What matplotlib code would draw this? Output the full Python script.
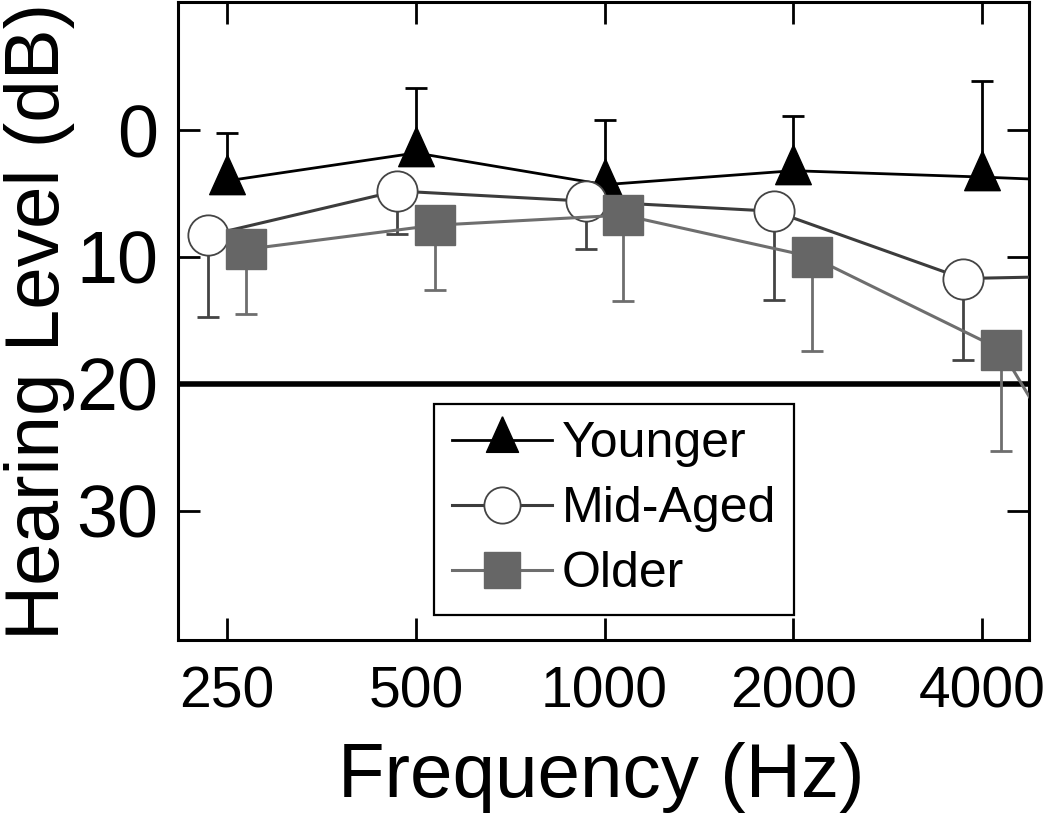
import numpy as np
import matplotlib
matplotlib.use('Agg')
import matplotlib.pyplot as plt

plt.rcParams['font.family'] = ['Liberation Sans', 'DejaVu Sans']

# audiometric frequencies (Hz); last point lies past the right edge
freqs = np.array([250, 500, 1000, 2000, 4000, 8000])
tick_labels = ['250', '500', '1000', '2000', '4000']

# mean hearing level (dB HL) per group
younger = [4.0, 1.8, 4.3, 3.2, 3.7, 4.3]
mid_aged = [8.3, 4.8, 5.6, 6.4, 11.7, 11.4]
older = [9.4, 7.5, 6.7, 10.0, 17.3, 42.0]

# one-sided SD bars (first five frequencies)
younger_sd = [3.8, 5.1, 5.1, 4.3, 7.6]
mid_aged_sd = [6.4, 3.4, 3.8, 7.0, 6.4]
older_sd = [5.1, 5.1, 6.8, 7.4, 8.0]

fig = plt.figure(figsize=(10.5, 8.35), dpi=100)
ax = fig.add_axes([0.1695, 0.2335, 0.8105, 0.7641])

shift = 2 ** 0.1  # horizontal offset so markers don't overlap
x_y = freqs
x_m = freqs / shift
x_o = freqs * shift
n = len(younger_sd)

# triangle anchored at its centroid, like the original software
tri = [(0, 0.667), (-0.45, -0.333), (0.45, -0.333), (0, 0.667)]

ax.axhline(20, color='black', lw=4, zorder=1)

# younger
ax.errorbar(x_y[:n], younger[:n], yerr=[younger_sd, [0] * n], fmt='none',
            ecolor='black', elinewidth=2, capsize=8, capthick=2, zorder=2)
l1, = ax.plot(x_y, younger, color='black', lw=2, marker=tri, ms=38,
              mfc='black', mec='black', label='Younger', zorder=3)

# mid-aged
ax.errorbar(x_m[:n], mid_aged[:n], yerr=[[0] * n, mid_aged_sd], fmt='none',
            ecolor='#444444', elinewidth=2, capsize=8, capthick=2, zorder=4)
l2, = ax.plot(x_m, mid_aged, color='#3c3c3c', lw=2.2, marker='o', ms=29,
              mfc='white', mec='#444444', mew=1.3, label='Mid-Aged', zorder=5)

# older
ax.errorbar(x_o[:n], older[:n], yerr=[[0] * n, older_sd], fmt='none',
            ecolor='#6e6e6e', elinewidth=2, capsize=8, capthick=2, zorder=6)
l3, = ax.plot(x_o, older, color='#6e6e6e', lw=2.2, marker='s', ms=29,
              mfc='#666666', mec='#666666', label='Older', zorder=7)

ax.set_xscale('log')
ax.set_xlim(208.7, 4753)
ax.set_ylim(40.2, -10.1)
ax.set_xticks(freqs[:5])
ax.set_xticklabels(tick_labels)
ax.minorticks_off()
ax.set_yticks([0, 10, 20, 30])

ax.tick_params(axis='x', direction='in', length=16, width=2, labelsize=41,
               pad=18, top=True)
ax.tick_params(axis='y', direction='in', length=16, width=2, labelsize=53,
               pad=14, right=True)
for s in ax.spines.values():
    s.set_linewidth(2.2)

ax.set_xlabel('Frequency (Hz)', fontsize=55)
ax.xaxis.set_label_coords(0.497, -0.16)
ax.set_ylabel('Hearing Level (dB)', fontsize=55)
ax.yaxis.set_label_coords(-0.121, 0.5)

leg = ax.legend(handles=[l1, l2, l3], loc='upper left',
                bbox_to_anchor=(0.301, 0.370), borderaxespad=0,
                fontsize=36, markerscale=0.9, handlelength=2.0,
                handletextpad=0.2, labelspacing=0.38, borderpad=0.35,
                fancybox=False, framealpha=1, edgecolor='black')
leg.get_frame().set_linewidth(1.6)
leg.set_zorder(10)

fig.savefig('out.png', dpi=100)
